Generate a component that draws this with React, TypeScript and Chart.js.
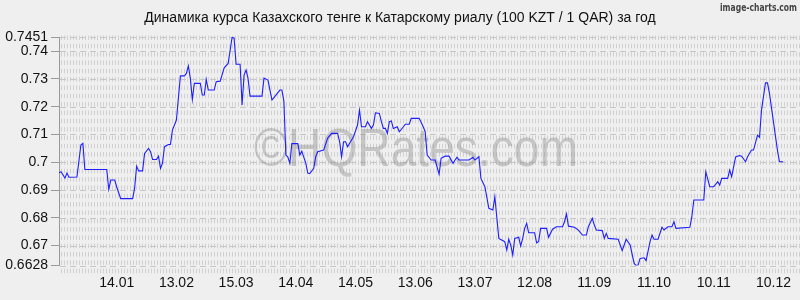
import React, { useEffect, useRef } from "react";
import { Chart, registerables } from "chart.js";

Chart.register(...registerables);

const TITLE = "Динамика курса Казахского тенге к Катарскому риалу (100 KZT / 1 QAR) за год";
const WATERMARK = "©HQRates.com";
const BRAND = "image-charts.com";

// day offsets from 16.12 of previous year
const days = [
  0, 1, 3, 4, 5, 9, 11, 12, 13, 24, 25, 26, 28, 29, 31, 37, 38, 39, 40, 42,
  43, 45, 46, 47, 49, 50, 51, 52, 53, 55, 56, 57, 59, 61, 63, 64, 65, 66, 67, 68,
  71, 72, 73, 74, 75, 78, 79, 81, 83, 85, 87, 88, 89, 91, 92, 93, 94, 95, 96, 102,
  103, 105, 107, 109, 111, 112, 113, 114, 115, 116, 117, 120, 121, 122, 124, 125, 126, 128, 129, 130,
  133, 135, 137, 140, 141, 142, 143, 144, 145, 147, 148, 150, 151, 152, 154, 155, 157, 158, 159, 161,
  162, 163, 164, 165, 166, 167, 168, 170, 171, 172, 174, 176, 177, 181, 183, 184, 185, 187, 189, 191,
  192, 194, 196, 198, 199, 200, 201, 206, 208, 209, 211, 212, 214, 216, 218, 219, 221, 224, 225, 226,
  227, 228, 229, 231, 232, 233, 234, 235, 236, 239, 240, 241, 242, 245, 246, 248, 250, 253, 254, 255,
  256, 259, 261, 263, 265, 266, 268, 269, 270, 273, 274, 275, 276, 281, 283, 285, 287, 289, 290, 291,
  292, 294, 295, 297, 298, 299, 301, 303, 304, 306, 308, 309, 310, 317, 318, 319, 324, 325, 327, 329,
  331, 332, 333, 336, 337, 338, 340, 342, 343, 345, 346, 348, 349, 351, 352, 353, 355, 356, 357, 361,
  362, 364,
];

const rates = [
  0.6962, 0.6966, 0.6943, 0.6961, 0.6946, 0.6947, 0.7062, 0.7068, 0.6974, 0.6974, 0.6902, 0.6936, 0.6936, 0.6911, 0.6869, 0.6869, 0.6907, 0.6986, 0.6969, 0.6969,
  0.7032, 0.7050, 0.7038, 0.7010, 0.7010, 0.7022, 0.6978, 0.6997, 0.7056, 0.7064, 0.7064, 0.7116, 0.7152, 0.7311, 0.7311, 0.7320, 0.7347, 0.7302, 0.7226, 0.7284,
  0.7284, 0.7242, 0.7242, 0.7298, 0.7260, 0.7260, 0.7290, 0.7292, 0.7340, 0.7356, 0.7451, 0.7446, 0.7353, 0.7353, 0.7206, 0.7314, 0.7332, 0.7302, 0.7238, 0.7238,
  0.7303, 0.7296, 0.7224, 0.7242, 0.7260, 0.7260, 0.7220, 0.7026, 0.7019, 0.6996, 0.7067, 0.7067, 0.7026, 0.7040, 0.6997, 0.6961, 0.6959, 0.6978, 0.7020, 0.7038,
  0.7044, 0.7087, 0.7104, 0.7104, 0.7074, 0.7020, 0.7074, 0.7074, 0.7056, 0.7080, 0.7092, 0.7134, 0.7188, 0.7128, 0.7128, 0.7146, 0.7122, 0.7134, 0.7178, 0.7176,
  0.7146, 0.7122, 0.7122, 0.7104, 0.7146, 0.7149, 0.7122, 0.7128, 0.7110, 0.7118, 0.7137, 0.7137, 0.7158, 0.7158, 0.7128, 0.7110, 0.7026, 0.7008, 0.7008, 0.6957,
  0.7014, 0.7022, 0.7022, 0.6996, 0.7008, 0.7018, 0.7008, 0.7008, 0.7018, 0.7008, 0.7020, 0.6942, 0.6912, 0.6834, 0.6828, 0.6876, 0.6726, 0.6714, 0.6684, 0.6723,
  0.6702, 0.6666, 0.6726, 0.6730, 0.6699, 0.6726, 0.6762, 0.6780, 0.6746, 0.6746, 0.6710, 0.6714, 0.6762, 0.6762, 0.6730, 0.6759, 0.6768, 0.6768, 0.6786, 0.6814,
  0.6770, 0.6766, 0.6756, 0.6738, 0.6738, 0.6768, 0.6798, 0.6774, 0.6756, 0.6754, 0.6726, 0.6744, 0.6726, 0.6723, 0.6682, 0.6723, 0.6702, 0.6636, 0.6628, 0.6630,
  0.6654, 0.6656, 0.6646, 0.6714, 0.6738, 0.6723, 0.6723, 0.6766, 0.6756, 0.6768, 0.6768, 0.6786, 0.6762, 0.6766, 0.6804, 0.6864, 0.6864, 0.6966, 0.6912, 0.6912,
  0.6930, 0.6918, 0.6942, 0.6942, 0.6972, 0.6948, 0.7019, 0.7024, 0.7022, 0.7002, 0.7020, 0.7044, 0.7044, 0.7098, 0.7090, 0.7188, 0.7286, 0.7286, 0.7248, 0.7044,
  0.7002, 0.7002,
];

const tickDays = [29, 59, 89, 119, 149, 179, 209, 239, 269, 299, 329, 359];
const tickLabels = ["14.01", "13.02", "15.03", "14.04", "14.05", "13.06", "13.07", "12.08", "11.09", "11.10", "10.11", "10.12"];
const yTicks = [0.6628, 0.67, 0.68, 0.69, 0.7, 0.71, 0.72, 0.73, 0.74, 0.7451];
const yMin = 0.6628;
const yMax = 0.7451;

function fitText(ctx: CanvasRenderingContext2D, text: string, x: number, y: number, width: number) {
  const w = ctx.measureText(text).width;
  ctx.save();
  ctx.translate(x, y);
  ctx.scale(width / w, 1);
  ctx.fillText(text, 0, 0);
  ctx.restore();
}

const decorPlugin = {
  id: "decor",
  beforeDraw(chart: any) {
    const ctx = chart.ctx as CanvasRenderingContext2D;
    ctx.save();
    ctx.fillStyle = "#efefef";
    ctx.fillRect(0, 0, chart.width, chart.height);
    ctx.fillStyle = "#111";
    ctx.font = '14px "Liberation Sans", Arial, sans-serif';
    ctx.textAlign = "center";
    ctx.textBaseline = "middle";
    ctx.fillText(TITLE, 400, 18);
    ctx.fillStyle = "#444";
    ctx.font = 'bold 10px "DejaVu Sans", sans-serif';
    ctx.textAlign = "left";
    ctx.textBaseline = "alphabetic";
    fitText(ctx, BRAND, 720, 11, 77);
    ctx.restore();
  },
  beforeDatasetsDraw(chart: any) {
    const ctx = chart.ctx as CanvasRenderingContext2D;
    const a = chart.chartArea;
    const ys = chart.scales.y;
    ctx.save();
    // hatched rows
    ctx.strokeStyle = "#d0d0d0";
    ctx.lineWidth = 1;
    ctx.beginPath();
    for (let ry = a.top - 1.5; ry < a.bottom + 10; ry += 8.33) {
      for (let x = a.left + 2; x < chart.width; x += 3) {
        ctx.moveTo(x + 0.5, ry);
        ctx.lineTo(x + 0.5, ry + 4.5);
      }
    }
    ctx.stroke();
    // dashed major lines
    ctx.strokeStyle = "#c6c6c6";
    ctx.setLineDash([6, 4]);
    ctx.beginPath();
    for (const v of yTicks) {
      const y = Math.round(ys.getPixelForValue(v)) + 0.5;
      ctx.moveTo(a.left + 1, y);
      ctx.lineTo(chart.width, y);
    }
    ctx.stroke();
    ctx.setLineDash([]);
    // watermark
    ctx.fillStyle = "rgba(140,140,140,0.42)";
    ctx.font = '53px "Liberation Sans", Arial, sans-serif';
    ctx.textAlign = "left";
    ctx.textBaseline = "alphabetic";
    fitText(ctx, WATERMARK, 254, 166, 324);
    ctx.restore();
  },
};

export default function App() {
  const ref = useRef<HTMLCanvasElement>(null);
  useEffect(() => {
    document.body.style.margin = "0";
    const canvas = ref.current!;
    const chart = new Chart(canvas, {
      type: "line",
      data: {
        datasets: [
          {
            data: days.map((d, i) => ({ x: d, y: rates[i] })),
            borderColor: "rgb(30,30,255)",
            borderWidth: 1.1,
            pointRadius: 0,
            tension: 0,
            fill: false,
          },
        ],
      },
      options: {
        animation: false,
        responsive: false,
        devicePixelRatio: 1,
        parsing: false as any,
        layout: { padding: { top: 37, right: 3, left: 0, bottom: 0 } },
        plugins: { legend: { display: false }, tooltip: { enabled: false }, title: { display: false } },
        scales: {
          x: {
            type: "linear",
            min: 0,
            max: 364,
            grid: { display: false, drawTicks: false },
            border: { display: false },
            afterFit: (s: any) => {
              s.height = 34.4;
            },
            afterBuildTicks: (s: any) => {
              s.ticks = tickDays.map((v) => ({ value: v }));
            },
            ticks: {
              autoSkip: false,
              maxRotation: 0,
              padding: 9,
              color: "#111",
              font: { family: '"Liberation Sans", Arial, sans-serif', size: 14 },
              callback: (v: any) => {
                const i = tickDays.indexOf(Number(v));
                return i >= 0 ? tickLabels[i] : "";
              },
            },
          },
          y: {
            type: "linear",
            min: yMin,
            max: yMax,
            afterFit: (s: any) => {
              s.width = 59;
            },
            afterBuildTicks: (s: any) => {
              s.ticks = yTicks.map((v) => ({ value: v }));
            },
            grid: { drawOnChartArea: false, drawTicks: true, tickLength: 8, tickColor: "#9a9a9a" },
            border: { display: true, color: "#9a9a9a" },
            ticks: {
              autoSkip: false,
              padding: 3,
              color: "#111",
              font: { family: '"Liberation Sans", Arial, sans-serif', size: 14 },
              callback: (v: any) => String(Number(v)),
            },
          },
        },
      },
      plugins: [decorPlugin],
    } as any);
    return () => chart.destroy();
  }, []);
  return (
    <div style={{ width: 800, height: 300 }}>
      <canvas ref={ref} width={800} height={300} style={{ display: "block" }} />
    </div>
  );
}
